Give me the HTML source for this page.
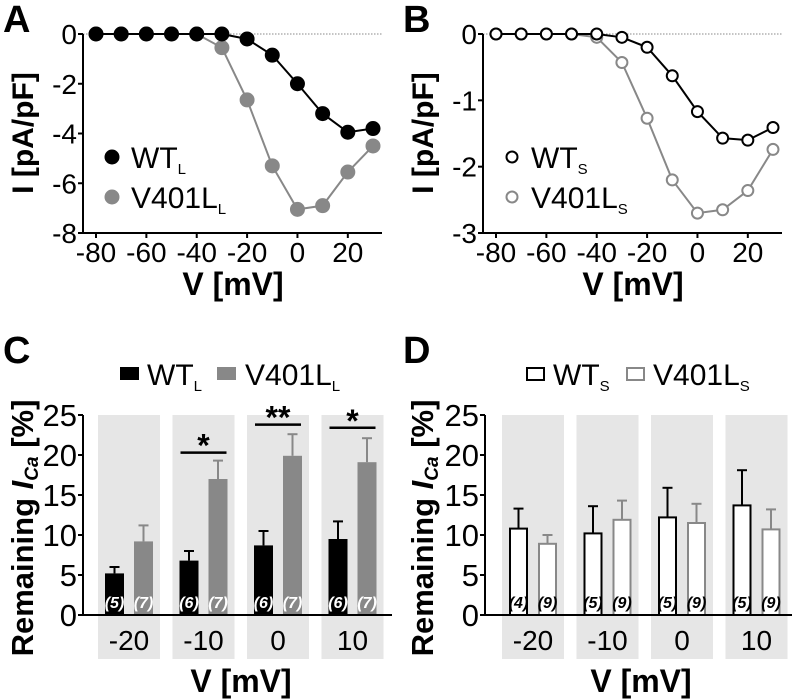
<!DOCTYPE html>
<html><head><meta charset="utf-8">
<style>
html,body{margin:0;padding:0;background:#fff;}
svg{display:block;font-family:"Liberation Sans",Arial,sans-serif;}
</style></head>
<body>
<svg id="fig" width="800" height="699" viewBox="0 0 800 699" xmlns="http://www.w3.org/2000/svg"></svg>
<script>
// ---- Data ----
const ivVoltages = [-80,-70,-60,-50,-40,-30,-20,-10,0,10,20,30];
const ivWT_L = [0,0,0,0,0,0,-0.2,-0.85,-2.0,-3.2,-3.95,-3.8];
const ivV401L_L = [0,0,0,0,0,-0.55,-2.65,-5.3,-7.05,-6.9,-5.55,-4.5];
const ivWT_S = [0,0,0,0,0,-0.05,-0.2,-0.63,-1.17,-1.57,-1.6,-1.41];
const ivV401L_S = [0,0,0,0,-0.05,-0.43,-1.27,-2.2,-2.7,-2.65,-2.36,-1.74];
const ivXTicks = [-80,-60,-40,-20,0,20];
const ivYTicksA = [0,-2,-4,-6,-8];
const ivYTicksB = [0,-1,-2,-3];

const barCats = ["-20","-10","0","10"];
const barYTicks = [0,5,10,15,20,25];
const cWT = [5.2,6.8,8.7,9.5];
const cWTerr = [0.8,1.2,1.8,2.2];
const cMut = [9.2,17.0,19.9,19.1];
const cMutErr = [2.0,2.3,2.7,3.0];
const cNwt = ["(5)","(6)","(6)","(6)"];
const cNmut = ["(7)","(7)","(7)","(7)"];
const cSig = ["","*","**","*"];
const cSigY = [0,20.3,23.8,23.4];
const dWT = [10.8,10.2,12.2,13.7];
const dWTerr = [2.5,3.4,3.7,4.4];
const dMut = [8.9,11.9,11.5,10.7];
const dMutErr = [1.1,2.4,2.4,2.5];
const dNwt = ["(4)","(5)","(5)","(5)"];
const dNmut = ["(9)","(9)","(9)","(9)"];

const NS="http://www.w3.org/2000/svg";
const svg=document.getElementById('fig');
function mk(tag,attrs,parent,text){const e=document.createElementNS(NS,tag);for(const k in attrs)e.setAttribute(k,attrs[k]);if(text!==undefined)e.textContent=text;(parent||svg).appendChild(e);return e;}

function label(x,y,txt,name,size){const t=mk('text',{x:x,y:y,'font-size':size||38,'font-weight':'bold'},svg,txt);

}

function legendText(g,x,y,main,sub){const t=mk('text',{x:x,y:y,'font-size':30},g);mk('tspan',{},t,main);mk('tspan',{'font-size':15,dy:6},t,sub);return t;}

function ivPanel(ox,yMin,yTicks,s1,s2,open,name,sub,ticks){
  const g=mk('g',{});
  
  
  const x0=ox+83,xr=ox+382,yTop=34,yBot=233;
  const sx=v=>ox+96+(v+80)*(277/110);
  const sy=v=>yTop+(v/yMin)*(yBot-yTop);
  mk('line',{x1:x0,y1:sy(0),x2:xr,y2:sy(0),stroke:'#888','stroke-width':1,'stroke-dasharray':'1.5,1.5'},g);
  mk('line',{x1:x0,y1:yTop,x2:x0,y2:yBot,stroke:'#000','stroke-width':2},g);
  mk('line',{x1:x0,y1:yBot,x2:xr,y2:yBot,stroke:'#000','stroke-width':2},g);
  ticks.forEach(v=>{mk('line',{x1:x0-5,y1:sy(v),x2:x0,y2:sy(v),stroke:'#000','stroke-width':2},g);
    const t=mk('text',{x:x0-6,y:sy(v)+10,'font-size':28,'text-anchor':'end'},g,String(v));
    
    });
  ivXTicks.forEach(v=>{mk('line',{x1:sx(v),y1:yBot,x2:sx(v),y2:yBot+5,stroke:'#000','stroke-width':2},g);
    const t=mk('text',{x:sx(v),y:yBot+29,'font-size':28,'text-anchor':'middle'},g,String(v));
    
    });
  [[s2,'#888','mutant'],[s1,'#000','wt']].forEach(([arr,c,nm])=>{
    const pl=mk('polyline',{points:arr.map((v,i)=>sx(ivVoltages[i])+','+sy(v)).join(' '),fill:'none',stroke:c,'stroke-width':2},g);
    
    
    arr.forEach((v,i)=>{const p=mk('circle',{cx:sx(ivVoltages[i]),cy:sy(v),r:open?5.5:6.5,fill:open?'#fff':c,stroke:c,'stroke-width':2},g);
      
      });
  });
  const t1=mk('text',{x:ox+33,y:133,'font-size':30,'font-weight':'bold','text-anchor':'middle',transform:`rotate(-90 ${ox+33} 133)`},g,'I [pA/pF]');
  
  
  const t2=mk('text',{x:ox+233,y:295,'font-size':32,'font-weight':'bold','text-anchor':'middle'},g,'V [mV]');
  
  
  const lg=mk('g',{},g);
  
  
  mk('circle',{cx:ox+112,cy:157,r:open?5.5:6.5,fill:open?'#fff':'#000',stroke:'#000','stroke-width':2},lg);
  legendText(lg,ox+131,168,'WT',sub);
  mk('circle',{cx:ox+112,cy:197,r:open?5.5:6.5,fill:open?'#fff':'#888',stroke:'#888','stroke-width':2},lg);
  legendText(lg,ox+131,208,'V401L',sub);
}

function barPanel(ox,axX,bandX0,wt,wtE,mut,mutE,nW,nM,open,name,sub,sig){
  const g=mk('g',{});
  
  
  const y0=615,y25=415;
  const sy=v=>y0-(v/25)*(y0-y25);
  const bandW=62,step=74.5;
  barCats.forEach((c,i)=>{const bx=bandX0+i*step;
    const b=mk('rect',{x:bx,y:y25,width:bandW,height:659-y25,fill:'#e6e6e6'},g);
    
    
    const t=mk('text',{x:bx+bandW/2,y:650,'font-size':28,'text-anchor':'middle'},g,c);
    
    
    [[wt,wtE,nW,'#000',7,'wt'],[mut,mutE,nM,'#888',36,'mutant']].forEach(([arr,err,nn,col,off,nm])=>{
      const x=bx+off,w=19,v=arr[i];
      mk('line',{x1:x+w/2,y1:sy(v),x2:x+w/2,y2:sy(v+err[i]),stroke:col,'stroke-width':2},g);
      mk('line',{x1:x+w/2-5,y1:sy(v+err[i]),x2:x+w/2+5,y2:sy(v+err[i]),stroke:col,'stroke-width':2},g);
      const r=open?mk('rect',{x:x+1,y:sy(v),width:w-2,height:y0-sy(v),fill:'#fff',stroke:col,'stroke-width':2},g)
                  :mk('rect',{x:x,y:sy(v),width:w,height:y0-sy(v),fill:col},g);
      
      
      const nt=mk('text',{x:x+w/2,y:608,'font-size':16,'font-weight':'bold','font-style':'italic','text-anchor':'middle',fill:open?'#000':'#fff'},g,nn[i]);
      
      
    });
    if(sig&&sig[i]){const yy=sy(cSigY[i]);
      mk('line',{x1:bx+8,y1:yy,x2:bx+54,y2:yy,stroke:'#000','stroke-width':2.5},g);
      const st=mk('text',{x:bx+31,y:yy+4,'font-size':32,'font-weight':'bold','text-anchor':'middle'},g,sig[i]);
      
      }
  });
  mk('line',{x1:axX,y1:y25,x2:axX,y2:y0,stroke:'#000','stroke-width':2},g);
  mk('line',{x1:axX,y1:y0,x2:ox+392,y2:y0,stroke:'#000','stroke-width':2},g);
  barYTicks.forEach(v=>{mk('line',{x1:axX-5,y1:sy(v),x2:axX,y2:sy(v),stroke:'#000','stroke-width':2},g);
    const t=mk('text',{x:axX-6,y:sy(v)+11,'font-size':31,'text-anchor':'end'},g,String(v));
    
    });
  const yt=mk('text',{x:ox+33,y:528,'font-size':31,'font-weight':'bold','text-anchor':'middle',transform:`rotate(-90 ${ox+33} 528)`},g);
  mk('tspan',{},yt,'Remaining ');mk('tspan',{'font-style':'italic'},yt,'I');mk('tspan',{'font-size':19,'font-style':'italic',dy:5},yt,'Ca');mk('tspan',{dy:-5},yt,' [%]');
  
  
  const xt=mk('text',{x:ox+241,y:692,'font-size':32,'font-weight':'bold','text-anchor':'middle'},g,'V [mV]');
  
  
  const lg=mk('g',{},g);
  
  
  const lx=open?ox+126:ox+120;
  if(open){mk('rect',{x:lx+1,y:368,width:17,height:12,fill:'#fff',stroke:'#000','stroke-width':2},lg);
           mk('rect',{x:lx+101,y:368,width:17,height:12,fill:'#fff',stroke:'#888','stroke-width':2},lg);}
  else{mk('rect',{x:lx,y:367,width:19,height:13,fill:'#000'},lg);mk('rect',{x:lx+97,y:367,width:19,height:13,fill:'#888'},lg);}
  legendText(lg,lx+27,385,'WT',sub);
  legendText(lg,lx+(open?127:125),385,'V401L',sub);
}

ivPanel(0,-8,ivYTicksA,ivWT_L,ivV401L_L,false,'panel-a-iv-chart','L',ivYTicksA);
ivPanel(400,-3,ivYTicksB,ivWT_S,ivV401L_S,true,'panel-b-iv-chart','S',ivYTicksB);
barPanel(0,83,98,cWT,cWTerr,cMut,cMutErr,cNwt,cNmut,false,'panel-c-bar-chart','L',cSig);
barPanel(400,485,502,dWT,dWTerr,dMut,dMutErr,dNwt,dNmut,true,'panel-d-bar-chart','S',null);
label(3,32,'A','panel-label-a');
label(403,32,'B','panel-label-b');
label(3,363,'C','panel-label-c');
label(403,363,'D','panel-label-d');
</script>
</body></html>
